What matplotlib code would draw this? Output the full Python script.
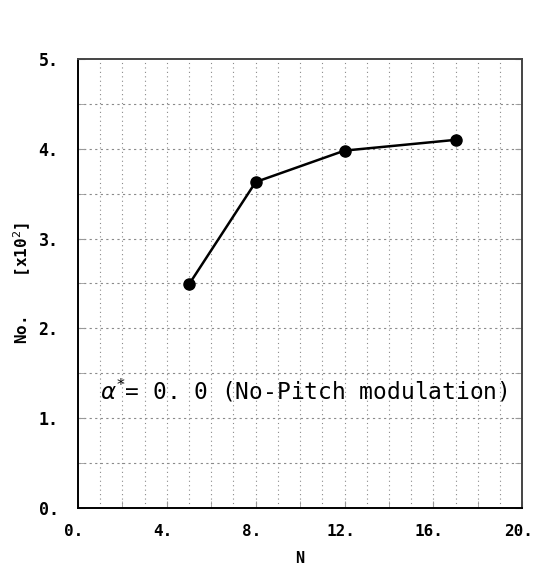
import matplotlib
matplotlib.use('Agg')
import matplotlib.pyplot as plt
import matplotlib.transforms as mtransforms
import numpy as np

# data
n_values = [5, 8, 12, 17]
counts = [2.49, 3.63, 3.98, 4.10]  # [x10^2]

x_ticks = [0, 4, 8, 12, 16, 20]
y_ticks = [0, 1, 2, 3, 4, 5]
x_labels = ['0.', '4.', '8.', '12.', '16.', '20.']
y_labels = ['0.', '1.', '2.', '3.', '4.', '5.']

mono = ['DejaVu Sans Mono']

fig = plt.figure(figsize=(5.34, 5.68), dpi=100)
ax = fig.add_axes([0.146, 0.106, 0.832, 0.790])

# dotted grid: every 1 in N, every 0.5 in No.
for gx in np.arange(1, 20, 1):
    ax.axvline(gx, color='#8a8a8a', lw=0.8, ls=(0, (1, 3)), zorder=1)
for gy in np.arange(0.5, 5, 0.5):
    ax.axhline(gy, color='#8a8a8a', lw=0.8, ls=(0, (2, 3)), zorder=1)

ax.plot(n_values, counts, color='black', lw=1.8, marker='o', ms=8, zorder=3)

ax.set_xlim(0, 20)
ax.set_ylim(0, 5)
ax.set_xticks(x_ticks)
ax.set_xticklabels(x_labels, fontweight='bold', family=mono, fontsize=11.5)
ax.set_yticks(y_ticks)
ax.set_yticklabels(y_labels, fontweight='bold', family=mono, fontsize=12)
ax.set_xticks(np.arange(2, 20, 2), minor=True)
ax.set_yticks(np.arange(0.5, 5, 0.5), minor=True)
ax.tick_params(axis='both', which='both', direction='in', length=5, color='#999999',
               top=False, right=True)
ax.tick_params(axis='x', which='major', pad=12)
ax.tick_params(axis='y', which='major', pad=14)

# labels in the original sit a little left of their ticks
shift = mtransforms.ScaledTranslation(-4 / 100, 0, fig.dpi_scale_trans)
for lbl in ax.get_xticklabels():
    lbl.set_transform(lbl.get_transform() + shift)

for side in ['left', 'bottom']:
    ax.spines[side].set_linewidth(1.4)
for side in ['top', 'right']:
    ax.spines[side].set_linewidth(1.4)
    ax.spines[side].set_color('#444444')

ax.set_xlabel('N', fontweight='bold', family=mono, fontsize=11, labelpad=8)
ax.set_ylabel('No.    [x10$^2$]', family=mono, fontsize=11.5, labelpad=4)
ax.yaxis.label.set_fontweight('bold')

ax.text(1.0, 1.30, r'$\alpha^{*}$= 0. 0 (No-Pitch modulation)', family=mono,
        fontsize=16.5, va='center', ha='left', zorder=4)

fig.savefig('out.png', dpi=100)
